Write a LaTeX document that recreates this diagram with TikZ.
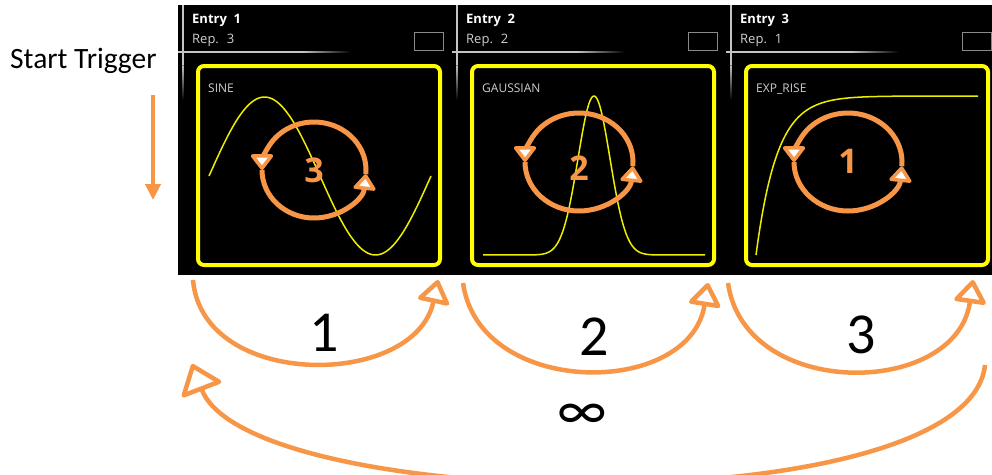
\documentclass[tikz,border=0pt]{standalone}
\usepackage{fontspec}
\setmainfont{Carlito}
\newfontfamily\uifont{Open Sans}
\usetikzlibrary{arrows.meta,positioning,calc}
\definecolor{trigorange}{HTML}{F79646}
\definecolor{screenyellow}{HTML}{FFFF00}
\definecolor{curveyellow}{HTML}{EEEE00}
\definecolor{uigray}{HTML}{CFCFCF}
\definecolor{linegray}{HTML}{C4C4C4}
\definecolor{slotgray}{HTML}{8A8A8A}
\tikzset{
  entrytext/.style={anchor=base west, inner sep=0pt, text=white,
                    font=\uifont\bfseries\fontsize{13}{16}\selectfont},
  reptext/.style={anchor=base west, inner sep=0pt, text=uigray,
                  font=\uifont\fontsize{13}{16}\selectfont},
  wavetext/.style={anchor=base west, inner sep=0pt, text=uigray,
                   font=\uifont\fontsize{12}{15}\selectfont},
  wavebox/.style={draw=screenyellow, line width=4pt, rounded corners=6pt},
  waveline/.style={draw=curveyellow, line width=1.5pt, smooth},
  slotbox/.style={draw=slotgray, line width=1pt},
  loopnum/.style={inner sep=0pt, text=trigorange,
                  font=\uifont\bfseries\fontsize{34}{40}\selectfont},
  looparc/.style={draw=trigorange, line width=5pt,
                  -{Triangle[round, length=17pt, width=25pt, line width=3.5pt, fill=white]}},
  steparc/.style={draw=trigorange, line width=4.5pt,
                  -{Triangle[round, length=25pt, width=35pt, fill=white]}},
  wraparc/.style={steparc, -{Triangle[round, length=30pt, width=46pt, fill=white]}},
  countnum/.style={inner sep=0pt, font=\fontsize{58}{60}\selectfont},
  trigarr/.style={draw=trigorange, line width=4pt,
                  -{Triangle[length=16pt, width=15pt]}},
}

\begin{document}
\begin{tikzpicture}[x=1pt, y=1pt]
  \fill[white] (0,0) rectangle (992,-474);
  \useasboundingbox (0,0) rectangle (992,-474);
  % screen area
  \fill[black] (178,-5) rectangle (992,-275);
  \foreach \xo/\num/\rep/\wave in {183/1/3/SINE, 457/2/2/GAUSSIAN, 731/3/1/{EXP\_RISE}} {
    \fill[linegray] (\xo-5,-51.4) rectangle (\xo+120,-52.6);
    \shade[left color=linegray, right color=black] (\xo+120,-51.4) rectangle (\xo+168,-52.6);
    \fill[linegray] (\xo-0.6,-5) rectangle (\xo+0.6,-65);
    \shade[top color=linegray, bottom color=black] (\xo-0.6,-65) rectangle (\xo+0.6,-100);
    \node[entrytext] (entry\num) at (\xo+9,-23) {Entry~ \num};
    \node[reptext] (rep\num) at (\xo+9,-43) {Rep.~ \rep};
    \draw[slotbox] (\xo+231,-32) rectangle (\xo+260,-50);
    \draw[wavebox] (\xo+15,-66) rectangle (\xo+257,-265);
    \node[wavetext] (wave\num) at (\xo+25,-92) {\wave};
  }
  % waveforms
  \draw[waveline] plot[domain=209:431, samples=90] ({\x}, {-(176-79*sin((\x-209)/222*360))});
  \draw[waveline] plot[domain=483:705, samples=160] ({\x}, {-(255-159*exp(-min(((\x-594)/16)^2/2, 9)))});
  \draw[waveline] plot[domain=756:978, samples=120] ({\x}, {-(96+159*exp(-min((\x-756)/21, 9)))});
  % repetition loops
  \coordinate (c1) at (314,-170);
  \coordinate (c2) at (579,-162);
  \coordinate (c3) at (848,-162);
  \node[loopnum] (n1) at (314,-170) {3};
  \node[loopnum] (n2) at (579,-168) {2};
  \node[loopnum] (n3) at (848,-161) {1};
  \draw[looparc] (c1) ++(-5:52 and 48) arc[start angle=-5, end angle=180, x radius=52, y radius=48];
  \draw[looparc] (c1) ++(180:52 and 48) arc[start angle=180, end angle=355, x radius=52, y radius=48];
  \draw[looparc] (c2) ++(-5:54 and 49) arc[start angle=-5, end angle=180, x radius=54, y radius=49];
  \draw[looparc] (c2) ++(180:54 and 49) arc[start angle=180, end angle=355, x radius=54, y radius=49];
  \draw[looparc] (c3) ++(-5:54 and 49) arc[start angle=-5, end angle=180, x radius=54, y radius=49];
  \draw[looparc] (c3) ++(180:54 and 49) arc[start angle=180, end angle=355, x radius=54, y radius=49];
  % start trigger
  \node[anchor=base west, inner sep=0pt, font=\fontsize{29.5}{32}\selectfont] (trig) at (10,-68) {Start Trigger};
  \coordinate (ts) at (153,-95);
  \coordinate (te) at (153,-200);
  \draw[trigarr] (ts) -- (te);
  % sequence steps
  \coordinate (s1) at (193,-280);
  \coordinate (t1) at (438,-280);
  \coordinate (s2) at (463,-283);
  \coordinate (t2) at (708,-283);
  \coordinate (s3) at (728,-283);
  \coordinate (t3) at (973,-280);
  \coordinate (s4) at (985,-365);
  \coordinate (t4) at (192,-364);
  \draw[steparc] (s1) to[out=-85, in=-102, looseness=1.16] (t1);
  \draw[steparc] (s2) to[out=-82, in=-99, looseness=1.22] (t2);
  \draw[steparc] (s3) to[out=-82, in=-98, looseness=1.24] (t3);
  \draw[wraparc] (s4) to[out=-96, in=-69, looseness=0.52] (t4);
  \node[countnum] (k1) at (324,-333) {1};
  \node[countnum] (k2) at (594,-337) {2};
  \node[countnum] (k3) at (861,-335) {3};
  \node[countnum] (kinf) at (582,-417) {∞};
\end{tikzpicture}
\end{document}
